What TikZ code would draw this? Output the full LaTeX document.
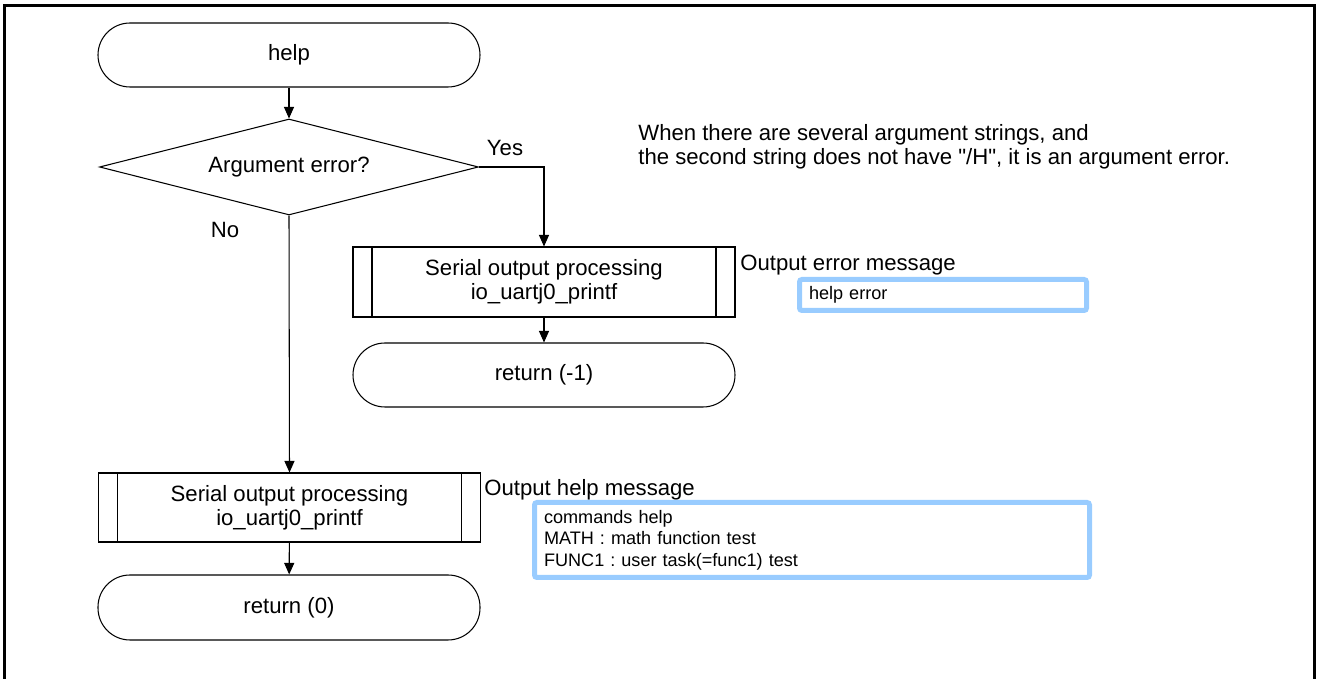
\documentclass[tikz,border=0pt]{standalone}
\usepackage{fontspec}
\setmainfont{Liberation Sans}
\usetikzlibrary{shapes.geometric,arrows.meta}
\definecolor{msgblue}{RGB}{153,204,255}
\frenchspacing
\newcommand\flowfont{\fontsize{12.6}{13.6}\selectfont}
\newcommand\msgfont{\fontsize{10.3}{12.2}\selectfont}
\tikzset{
    terminal-box/.style = {draw, line width=0.6pt, rectangle, rounded corners=0.64cm, minimum width=7.64cm, minimum height=1.28cm, font=\flowfont},
    decision-box/.style = {draw, line width=0.6pt, diamond, aspect=4, inner sep=0pt, minimum width=7.58cm, minimum height=1.92cm, font=\flowfont},
    process-box/.style = {draw, line width=0.6pt, rectangle, align=center, minimum width=7.64cm, minimum height=1.40cm, font=\flowfont,
        path picture={
            \draw[line width=0.6pt] ([xshift=0.38cm]path picture bounding box.north west) -- ([xshift=0.38cm]path picture bounding box.south west);
            \draw[line width=0.6pt] ([xshift=-0.38cm]path picture bounding box.north east) -- ([xshift=-0.38cm]path picture bounding box.south east);
        }},
    message-box/.style = {draw=msgblue, line width=0.1cm, rounded corners=0.05cm, align=left, inner xsep=0.19cm, font=\msgfont},
    label-text/.style = {inner sep=0pt, font=\flowfont},
    flow-arrow/.style = {line width=0.6pt, -{Triangle[length=0.23cm, width=0.2cm]}},
}
\begin{document}
\begin{tikzpicture}
\useasboundingbox (0,0) rectangle (26.34,-13.58);
\draw[line width=0.06cm] (0.09,-13.8) -- (0.09,-0.114) -- (26.29,-0.114) -- (26.29,-13.8);

% flow
\node[terminal-box] (help) at (5.78,-1.10) {help};
\node[decision-box] (argerr) at (5.78,-3.34) {Argument error?};
\node[process-box] (errout) at (10.88,-5.64) {Serial output processing\\io\_uartj0\_printf};
\node[terminal-box] (retneg) at (10.88,-7.50) {return (-1)};
\node[process-box, minimum height=1.38cm] (helpout) at (5.79,-10.15) {Serial output processing\\io\_uartj0\_printf};
\node[terminal-box, minimum height=1.30cm] (retzero) at (5.78,-12.15) {return (0)};

\draw[flow-arrow] (help) -- (argerr);
\draw[flow-arrow] (argerr.east) -| (errout.north);
\draw[flow-arrow] (errout) -- (retneg);
\draw[flow-arrow] (argerr.south) -- (helpout.north);
\draw[flow-arrow] (helpout) -- (retzero);

% labels
\node[label-text] (yes) at (10.10,-2.96) {Yes};
\node[label-text] (no) at (4.50,-4.60) {No};
\node[label-text, anchor=west, align=left] (note) at (12.76,-2.94) {When there are several argument strings, and\\the second string does not have \textquotedbl/H\textquotedbl, it is an argument error.};
\node[label-text, anchor=west] (errlabel) at (14.80,-5.30) {Output error message};
\node[label-text, anchor=west] (helplabel) at (9.68,-9.80) {Output help message};

% messages
\node[message-box, minimum width=5.74cm, minimum height=0.62cm, text width=5.36cm] (errmsg) at (18.86,-5.90) {help error};
\node[message-box, minimum width=11.10cm, minimum height=1.50cm, text width=10.72cm] (helpmsg) at (16.24,-10.80) {commands help\\MATH : math function test\\FUNC1 : user task(=func1) test};
\end{tikzpicture}
\end{document}
